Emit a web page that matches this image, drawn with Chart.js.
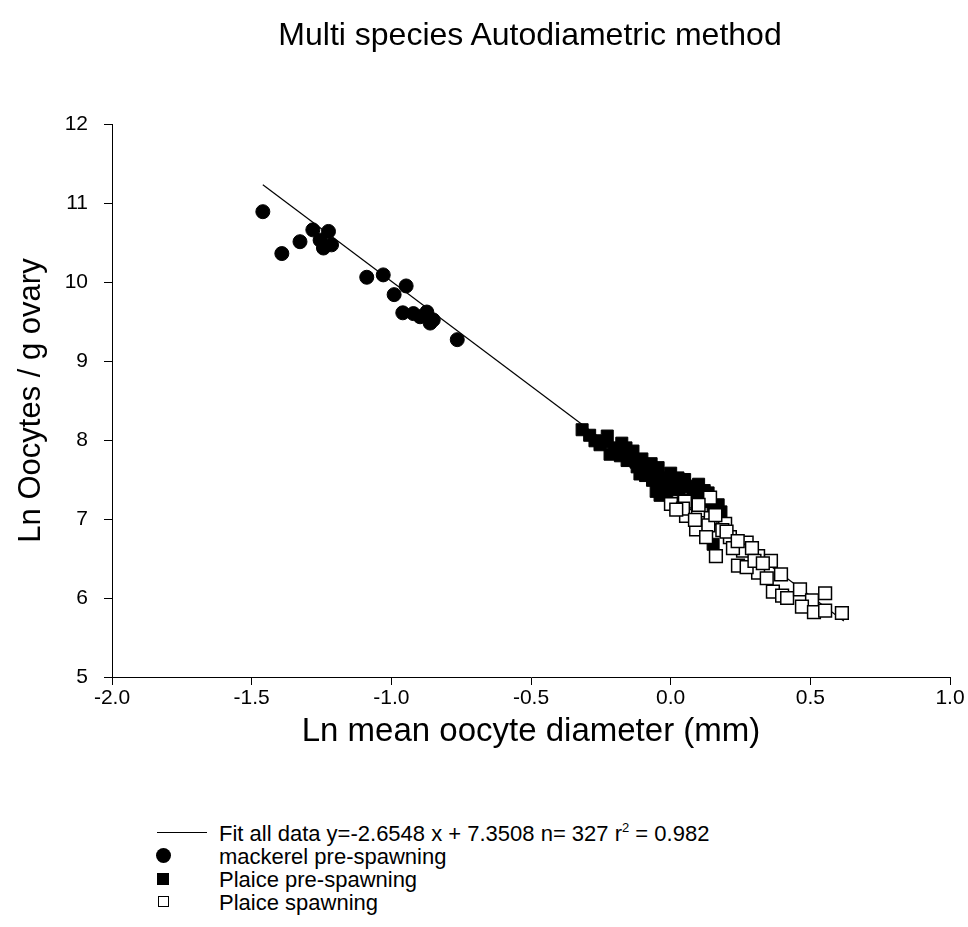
<!DOCTYPE html>
<html>
<head>
<meta charset="utf-8">
<script src="https://cdn.jsdelivr.net/npm/chart.js@4.4.0/dist/chart.umd.min.js"></script>
<style>
  html, body { margin: 0; padding: 0; background: #fff; }
  #wrap { position: relative; width: 968px; height: 927px; font-family: Arial, "Liberation Sans", sans-serif; color: #000; }
  #titulo { position: absolute; left: 0; top: 17px; width: 1060px; text-align: center; font-size: 32px; line-height: 34px; }
  #grafico { position: absolute; left: 0; top: 0; }
  .fila { position: absolute; left: 150px; height: 23px; font-size: 22px; line-height: 23px; white-space: nowrap; }
  .fila span.txt { position: absolute; left: 69px; top: 1px; }
  .fila sup { font-size: 13px; vertical-align: 9px; line-height: 0; }
  .ico { position: absolute; box-sizing: border-box; }
</style>
</head>
<body>
<div id="wrap">
  <canvas id="grafico" width="968" height="780"></canvas>
  <div id="titulo">Multi species Autodiametric method</div>

  <div class="fila" style="top:821px">
    <div class="ico" style="left:7px; top:11px; width:50px; height:1px; background:#000"></div>
    <span class="txt">Fit all data y=-2.6548 x + 7.3508 n= 327 r<sup>2</sup> = 0.982</span>
  </div>
  <div class="fila" style="top:844px">
    <div class="ico" style="left:6px; top:4px; width:15px; height:15px; border-radius:50%; background:#000"></div>
    <span class="txt">mackerel pre-spawning</span>
  </div>
  <div class="fila" style="top:867px">
    <div class="ico" style="left:7px; top:6px; width:12px; height:12px; background:#000"></div>
    <span class="txt">Plaice pre-spawning</span>
  </div>
  <div class="fila" style="top:890px">
    <div class="ico" style="left:8px; top:6px; width:11px; height:11px; border:1.5px solid #000; background:#fff"></div>
    <span class="txt">Plaice spawning</span>
  </div>
</div>

<script>
// ejes
const ticksX = [-2.0, -1.5, -1.0, -0.5, 0.0, 0.5, 1.0];
const ticksY = [5, 6, 7, 8, 9, 10, 11, 12];

// recta de ajuste (extremos)
const ajusteX = [-1.46, 0.62];
const ajusteY = [11.23, 5.71];

// caballa pre-puesta
const caballaX = [-1.46, -1.392, -1.327, -1.281, -1.225, -1.255, -1.243, -1.214, -1.088, -1.029,
                  -0.947, -0.990, -0.959, -0.921, -0.873, -0.861, -0.850, -0.897, -0.764];
const caballaY = [10.89, 10.36, 10.51, 10.66, 10.64, 10.53, 10.43, 10.47, 10.06, 10.09,
                  9.95, 9.84, 9.61, 9.60, 9.62, 9.48, 9.52, 9.56, 9.27];

// solla pre-puesta
const solaPreX = [-0.317, -0.271, -0.227, -0.175, -0.217, -0.135, -0.156, -0.103, -0.110, -0.078,
                  -0.065, -0.045, -0.052, -0.063, -0.035, -0.014, 0.026, 0.069, 0.105, 0.152,
                  0.134, 0.180, 0.152, -0.199, -0.124, -0.092, -0.010, 0.051, 0.087, 0.123,
                  -0.253, -0.038, 0.016, 0.069,
                  -0.29, -0.24, -0.20, -0.18, -0.16, -0.14, -0.12, -0.09, -0.07, -0.04,
                  -0.02, 0.00, 0.03, 0.05, 0.08, 0.10, 0.12, 0.14, 0.16, 0.17];
const solaPreY = [8.13, 7.99, 8.05, 7.96, 7.82, 7.86, 7.74, 7.76, 7.57, 7.67,
                  7.49, 7.65, 7.35, 7.58, 7.46, 7.33, 7.52, 7.41, 7.33, 7.15,
                  7.33, 7.09, 6.68, 7.90, 7.72, 7.62, 7.49, 7.43, 7.37, 7.24,
                  7.94, 7.30, 7.37, 7.24,
                  8.06, 7.98, 7.84, 7.80, 7.90, 7.78, 7.66, 7.55, 7.70, 7.52,
                  7.42, 7.58, 7.38, 7.50, 7.30, 7.44, 7.36, 7.22, 7.12, 7.18];

// solla en puesta
const solaDesX = [0.001, 0.051, 0.055, 0.141, 0.143, 0.091, 0.135, 0.195, 0.212, 0.272,
                  0.259, 0.162, 0.313, 0.241, 0.359, 0.098, 0.313, 0.395, 0.366, 0.399,
                  0.417, 0.463, 0.506, 0.553, 0.470, 0.513, 0.553, 0.613, 0.272, 0.344,
                  0.044, 0.185, 0.127, 0.087, 0.223, 0.291,
                  0.02, 0.10, 0.16, 0.20, 0.24, 0.30, 0.33];
const solaDesY = [7.19, 7.22, 7.04, 7.27, 7.01, 6.87, 6.92, 6.94, 6.77, 6.70,
                  6.60, 6.53, 6.53, 6.41, 6.47, 7.11, 6.32, 6.30, 6.08, 6.03,
                  6.00, 6.11, 5.97, 6.06, 5.89, 5.82, 5.84, 5.81, 6.39, 6.25,
                  7.13, 6.86, 6.77, 6.99, 6.63, 6.63,
                  7.12, 7.18, 7.05, 6.84, 6.72, 6.47, 6.44];

const aPuntos = (xs, ys) => xs.map((x, i) => ({ x: x, y: ys[i] }));

const fuente = 'Arial, "Liberation Sans", sans-serif';

const ctx = document.getElementById('grafico').getContext('2d');
new Chart(ctx, {
  type: 'scatter',
  data: {
    datasets: [
      {
        label: 'Fit all data',
        data: aPuntos(ajusteX, ajusteY),
        showLine: true,
        borderColor: '#000',
        borderWidth: 1.2,
        pointRadius: 0,
        order: 4
      },
      {
        label: 'mackerel pre-spawning',
        data: aPuntos(caballaX, caballaY),
        pointStyle: 'circle',
        pointRadius: 7,
        borderWidth: 1,
        borderColor: '#000',
        backgroundColor: '#000',
        order: 3
      },
      {
        label: 'Plaice pre-spawning',
        data: aPuntos(solaPreX, solaPreY),
        pointStyle: 'rect',
        pointRadius: 8.5,
        borderWidth: 1,
        borderColor: '#000',
        backgroundColor: '#000',
        order: 2
      },
      {
        label: 'Plaice spawning',
        data: aPuntos(solaDesX, solaDesY),
        pointStyle: 'rect',
        pointRadius: 9,
        borderWidth: 1.5,
        borderColor: '#000',
        backgroundColor: '#fff',
        order: 1
      }
    ]
  },
  options: {
    responsive: false,
    animation: false,
    layout: { padding: { left: 0, right: 18, top: 124, bottom: 0 } },
    plugins: {
      legend: { display: false },
      tooltip: { enabled: false }
    },
    scales: {
      x: {
        type: 'linear',
        min: -2,
        max: 1,
        afterFit: s => { s.height = 103; },
        afterBuildTicks: s => { s.ticks = ticksX.map(v => ({ value: v })); },
        border: { display: true, color: '#000', width: 1 },
        grid: { drawOnChartArea: false, drawTicks: true, tickLength: 8, color: '#000' },
        ticks: {
          color: '#000',
          padding: 1,
          maxRotation: 0,
          font: { family: fuente, size: 21 },
          callback: v => v.toFixed(1)
        },
        title: {
          display: true,
          text: 'Ln mean oocyte diameter (mm)',
          color: '#000',
          font: { family: fuente, size: 33 },
          padding: { top: 0, bottom: 28 }
        }
      },
      y: {
        type: 'linear',
        min: 5,
        max: 12,
        afterFit: s => { s.width = 112; },
        afterBuildTicks: s => { s.ticks = ticksY.map(v => ({ value: v })); },
        border: { display: true, color: '#000', width: 1 },
        grid: { drawOnChartArea: false, drawTicks: true, tickLength: 8, color: '#000' },
        ticks: {
          color: '#000',
          padding: 16,
          font: { family: fuente, size: 21 },
          callback: v => String(v)
        },
        title: {
          display: true,
          text: 'Ln Oocytes / g ovary',
          color: '#000',
          font: { family: fuente, size: 31 },
          padding: { top: 13, bottom: 0 }
        }
      }
    }
  }
});
</script>
</body>
</html>
